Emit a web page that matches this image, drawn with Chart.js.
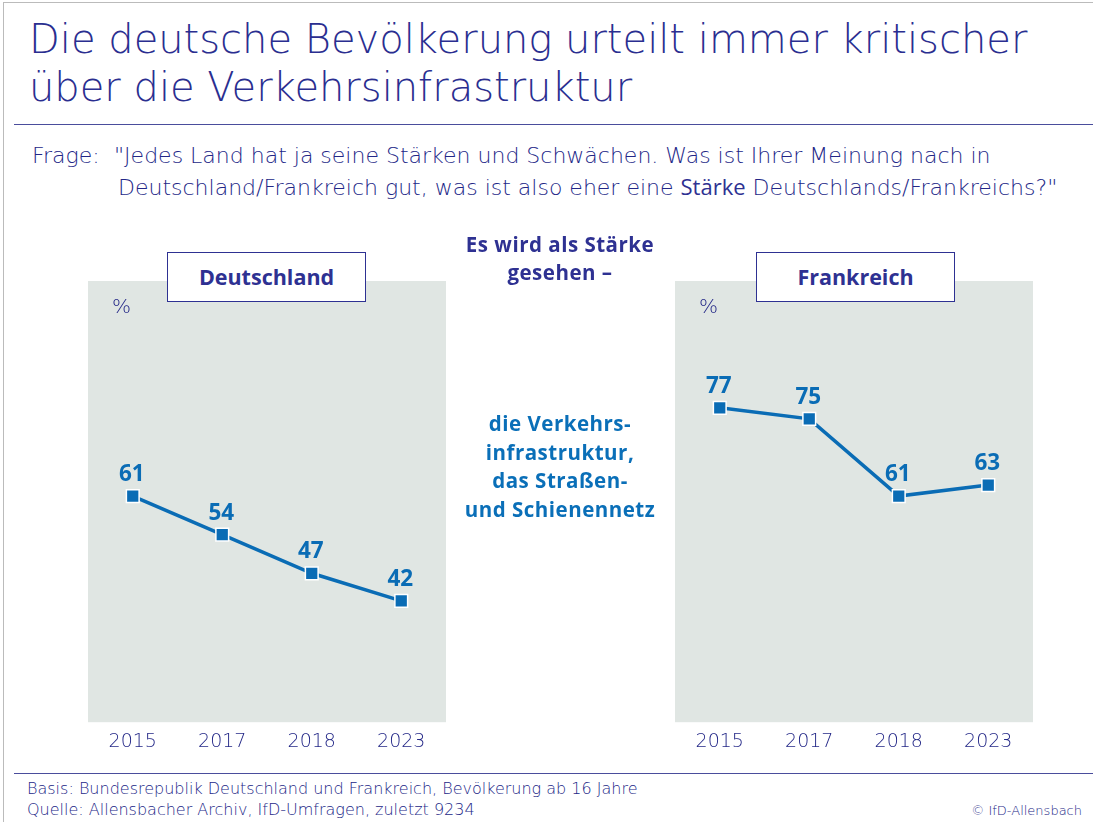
<!DOCTYPE html>
<html><head><meta charset="utf-8">
<script src="https://cdn.jsdelivr.net/npm/chart.js@4/dist/chart.umd.min.js"></script>
<style>
html,body{margin:0;padding:0;background:#fff;}
body{width:1093px;height:822px;position:relative;overflow:hidden;font-family:"DejaVu Sans",sans-serif;color:#2e3192;}
.abs{position:absolute;white-space:nowrap;}
.thin{color:#232787;}
#frame{position:absolute;left:3px;top:2px;width:1200px;height:1000px;border-left:1px solid #bbb;border-top:1px solid #bbb;}
.title{position:absolute;left:29px;font-size:40px;line-height:48px;font-weight:200;white-space:nowrap;color:#2a2e90;}
.hr{position:absolute;left:14px;width:1079px;height:1px;background:#4a4d9c;}
.frage{position:absolute;font-size:22px;line-height:30px;font-weight:200;white-space:nowrap;color:#232787;}
.box{position:absolute;top:252px;width:197px;height:48px;border:1.5px solid #2e3192;background:#fff;text-align:center;font-family:"Open Sans",sans-serif;font-weight:bold;font-size:21.5px;line-height:48px;}
.pct{position:absolute;font-size:20px;font-weight:200;color:#232787;}
.mid{position:absolute;left:430px;width:260px;text-align:center;font-family:"Open Sans",sans-serif;font-weight:bold;font-size:20.5px;letter-spacing:0.5px;}
.foot{position:absolute;left:27px;font-size:16px;font-weight:200;white-space:nowrap;color:#232787;}
canvas{position:absolute;}
</style></head>
<body>
<div id="frame"></div>
<div class="title" style="top:15px">Die deutsche Bevölkerung urteilt immer kritischer</div>
<div class="title" style="top:63px">über die Verkehrsinfrastruktur</div>
<div class="hr" style="top:124px"></div>
<div class="frage" style="left:32px;top:141px">Frage:</div>
<div class="frage" style="left:114px;top:141px">"Jedes Land hat ja seine Stärken und Schwächen. Was ist Ihrer Meinung nach in</div>
<div class="frage" style="left:118px;top:171px">Deutschland/Frankreich gut, was ist also eher eine <b style="font-family:'Open Sans',sans-serif;color:#2e3192;">Stärke</b> Deutschlands/Frankreichs?"</div>
<div style="position:absolute;left:88px;top:281px;width:358px;height:480px;"><canvas id="c1"></canvas></div>
<div style="position:absolute;left:675px;top:281px;width:358px;height:480px;"><canvas id="c2"></canvas></div>
<div class="box" style="left:167px">Deutschland</div>
<div class="box" style="left:756px">Frankreich</div>
<div class="pct" style="left:112px;top:294px">%</div>
<div class="pct" style="left:699px;top:294px">%</div>
<div class="mid" style="top:230px;line-height:28px;">Es wird als Stärke<br>gesehen –</div>
<div class="mid" style="top:409px;line-height:28.5px;color:#0a6fb8;">die Verkehrs-<br>infrastruktur,<br>das Straßen-<br>und Schienennetz</div>
<div class="hr" style="top:773px"></div>
<div class="foot" style="top:779px">Basis: Bundesrepublik Deutschland und Frankreich, Bevölkerung ab 16 Jahre</div>
<div class="foot" style="top:800px">Quelle: Allensbacher Archiv, IfD-Umfragen, zuletzt 9234</div>
<div class="abs thin" style="right:11px;top:803px;font-size:13px;font-weight:200;">© IfD-Allensbach</div>
<script>
const years = ["2015", "2017", "2018", "2023"];
const deutschland = [61, 54, 47, 42];
const frankreich = [77, 75, 61, 63];

const DARK = "#232787";
const BLUE = "#0a6cb5";
const PANEL = "#e0e6e3";

const panelBg = {
  id: "panelBg",
  beforeDraw(chart) {
    const a = chart.chartArea, ctx = chart.ctx;
    ctx.save(); ctx.fillStyle = PANEL;
    ctx.fillRect(a.left, a.top, a.right - a.left, a.bottom - a.top);
    ctx.restore();
  }
};
const valueLabels = {
  id: "valueLabels",
  afterDatasetsDraw(chart) {
    const ctx = chart.ctx;
    chart.data.datasets.forEach((ds, i) => {
      const meta = chart.getDatasetMeta(i);
      meta.data.forEach((pt, j) => {
        ctx.save();
        ctx.fillStyle = BLUE;
        ctx.font = "bold 22.5px 'Open Sans', sans-serif";
        ctx.textAlign = "center";
        ctx.textBaseline = "alphabetic";
        ctx.fillText(String(ds.data[j]), pt.x - 1, pt.y - 15);
        ctx.restore();
      });
    });
  }
};

function makeChart(id, values) {
  return new Chart(document.getElementById(id), {
    type: "line",
    data: {
      labels: years,
      datasets: [{
        data: values,
        borderColor: BLUE,
        borderWidth: 3.5,
        backgroundColor: BLUE,
        pointStyle: "rect",
        pointRadius: 9,
        pointBorderColor: "#fff",
        pointBorderWidth: 1.5,
        tension: 0,
        clip: false
      }]
    },
    options: {
      responsive: true,
      maintainAspectRatio: false,
      animation: false,
      layout: { autoPadding: false, padding: 0 },
      plugins: { legend: { display: false }, tooltip: { enabled: false } },
      scales: {
        x: {
          offset: true,
          grid: { display: false, drawTicks: false },
          border: { display: false },
          ticks: { color: DARK, font: { family: "'DejaVu Sans', sans-serif", size: 19, weight: 200, lineHeight: 1.2 }, padding: 8 }
        },
        y: {
          display: false,
          min: 20,
          max: 100
        }
      }
    },
    plugins: [panelBg, valueLabels]
  });
}
makeChart("c1", deutschland);
makeChart("c2", frankreich);
</script>
</body></html>
